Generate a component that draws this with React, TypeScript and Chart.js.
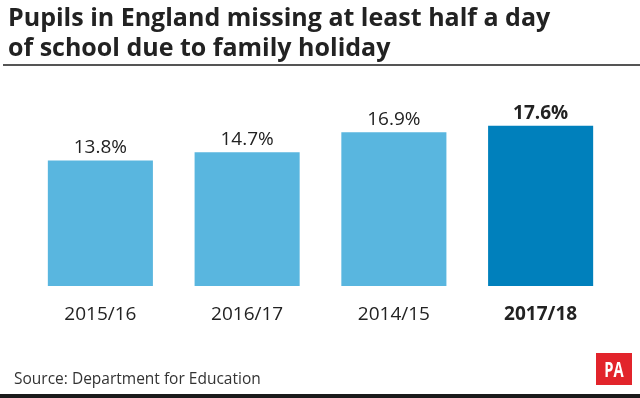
import React, { useEffect, useRef } from "react";
import { Chart, registerables } from "chart.js";

Chart.register(...registerables);

const categories = ["2015/16", "2016/17", "2014/15", "2017/18"];
const values = [13.8, 14.7, 16.9, 17.6];
const highlighted = [false, false, false, true];
const titleLines = [
  "Pupils in England missing at least half a day",
  "of school due to family holiday",
];
const sourceText = "Source: Department for Education";
const logoText = "PA";

const LIGHT = "#59b6df";
const DARK = "#0080bc";
const TEXT = "#222222";
const FONT = '"Open Sans", "Noto Sans", sans-serif';

const decorPlugin = {
  id: "decor",
  afterDraw(chart: any) {
    const ctx = chart.ctx as CanvasRenderingContext2D;
    const W = chart.width;
    ctx.save();
    // title
    ctx.fillStyle = TEXT;
    ctx.textAlign = "left";
    ctx.textBaseline = "alphabetic";
    ctx.font = `bold 25px ${FONT}`;
    titleLines.forEach((line, i) => ctx.fillText(line, 8, 26 + i * 30));
    // rule under title
    ctx.fillStyle = "#555555";
    ctx.fillRect(3, 64, W - 3, 2);

    // value labels + category labels
    const meta = chart.getDatasetMeta(0);
    const xScale = chart.scales.x;
    ctx.textAlign = "center";
    meta.data.forEach((el: any, i: number) => {
      const bold = highlighted[i] ? "bold " : "";
      ctx.fillStyle = TEXT;
      ctx.font = `${bold}19px ${FONT}`;
      ctx.fillText(`${values[i].toFixed(1)}%`, el.x, el.y - 7);
      ctx.fillText(categories[i], xScale.getPixelForValue(i), 320);
    });

    // source
    ctx.textAlign = "left";
    ctx.fillStyle = "#333333";
    ctx.font = `15.5px ${FONT}`;
    ctx.fillText(sourceText, 14, 384);

    // logo
    ctx.fillStyle = "#e2242b";
    ctx.fillRect(596, 353, 36, 32);
    ctx.fillStyle = "#ffffff";
    ctx.textAlign = "center";
    ctx.font = `bold 21px ${FONT}`;
    ctx.save();
    ctx.translate(614, 377);
    ctx.scale(0.7, 1);
    ctx.fillText(logoText, 0, 0);
    ctx.restore();

    // bottom bar
    ctx.fillStyle = "#1a1a1a";
    ctx.fillRect(0, 394, W, 4);
    ctx.restore();
  },
};

export default function App() {
  const ref = useRef<HTMLCanvasElement | null>(null);
  useEffect(() => {
    if (!ref.current) return;
    const chart = new Chart(ref.current, {
      type: "bar",
      data: {
        labels: categories,
        datasets: [
          {
            data: values,
            backgroundColor: highlighted.map((h) => (h ? DARK : LIGHT)),
            borderWidth: 0,
            barPercentage: 0.716,
            categoryPercentage: 1,
          },
        ],
      },
      options: {
        responsive: false,
        animation: false,
        layout: { padding: { top: 104, bottom: 112, left: 27, right: 26 } },
        plugins: { legend: { display: false }, tooltip: { enabled: false }, title: { display: false } },
        scales: {
          x: { display: false },
          y: { display: false, min: 0, max: 20 },
        },
      },
      plugins: [decorPlugin],
    });
    return () => chart.destroy();
  }, []);
  return (
    <div style={{ position: "fixed", left: 0, top: 0, width: 640, height: 398, background: "#fff" }}>
      <canvas ref={ref} width={640} height={398} style={{ display: "block" }} />
    </div>
  );
}
